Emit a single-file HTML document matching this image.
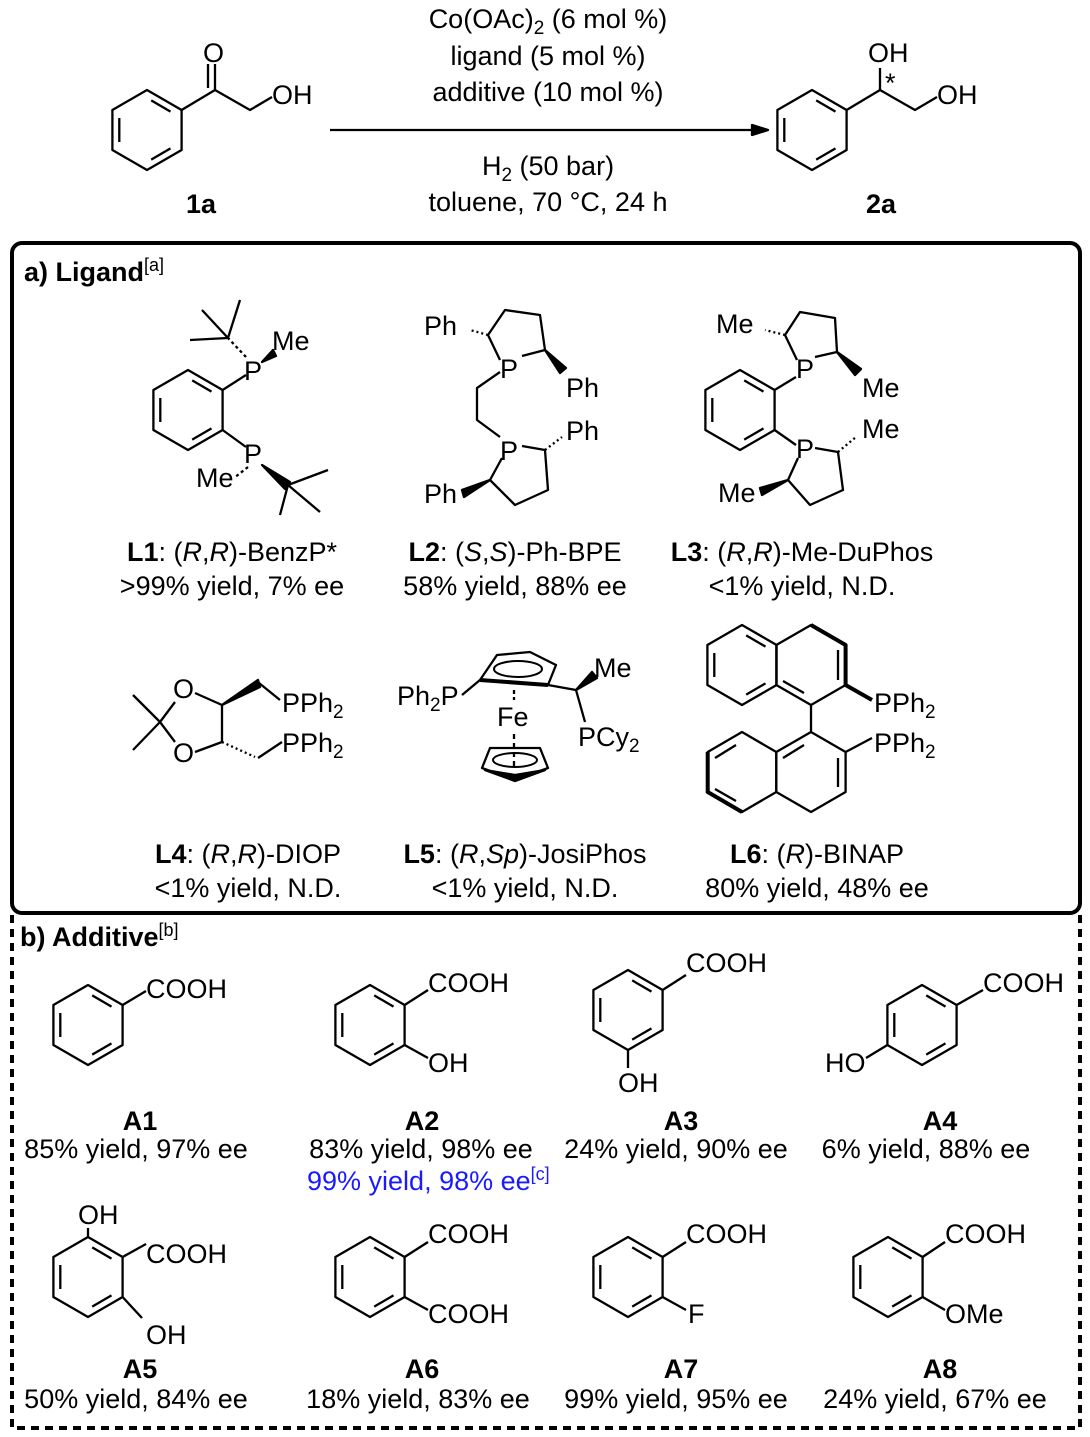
<!DOCTYPE html>
<html><head><meta charset="utf-8"><style>
body{margin:0;background:#fff;}
svg{display:block;font-family:"Liberation Sans",Arial,sans-serif;}
text{font-size:27px;fill:#000;}
.b{font-weight:bold;}
line,polyline,polygon,path{stroke:#000;stroke-width:2.3;fill:none;stroke-linejoin:round;}
</style></head><body>
<svg width="1090" height="1437" viewBox="0 0 1090 1437" xmlns="http://www.w3.org/2000/svg">
<defs>
<g id="bz">
<polygon points="0,-40 34.6,-20 34.6,20 0,40 -34.6,20 -34.6,-20"/>
<line x1="4.2" y1="-29.6" x2="23.5" y2="-18.4"/>
<line x1="23.5" y1="18.4" x2="4.2" y2="29.6"/>
<line x1="-27.7" y1="-12" x2="-27.7" y2="12"/>
</g>
</defs>

<!-- Top scheme -->
<use href="#bz" transform="translate(147,130)"/>
<polyline points="181.6,110 215,90 250,110 272,97"/>
<line x1="215" y1="90" x2="215" y2="64"/>
<line x1="208" y1="88" x2="208" y2="64"/>
<text x="203" y="62">O</text>
<text x="272" y="104">OH</text>
<text x="186" y="213" class="b">1a</text>

<line x1="330" y1="130" x2="758" y2="130"/>
<polygon points="768,130 752,125 752,135" style="fill:#000"/>
<text x="548" y="28" text-anchor="middle">Co(OAc)<tspan font-size="19" dy="6">2</tspan><tspan dy="-6"> (6 mol %)</tspan></text>
<text x="548" y="65" text-anchor="middle">ligand (5 mol %)</text>
<text x="548" y="101" text-anchor="middle">additive (10 mol %)</text>
<text x="548" y="175" text-anchor="middle">H<tspan font-size="19" dy="6">2</tspan><tspan dy="-6"> (50 bar)</tspan></text>
<text x="548" y="211" text-anchor="middle">toluene, 70 °C, 24 h</text>

<use href="#bz" transform="translate(812,130)"/>
<polyline points="846.6,110 880,90 915,110 937,97"/>
<line x1="880" y1="90" x2="880" y2="68"/>
<text x="868" y="62">OH</text>
<text x="885" y="92" font-size="16">*</text>
<text x="937" y="104">OH</text>
<text x="866" y="213" class="b">2a</text>

<!-- Box a -->
<rect x="12" y="243" width="1068" height="670" rx="10" style="fill:none;stroke:#000;stroke-width:4"/>
<text x="24" y="281" class="b">a) Ligand<tspan font-size="18" dy="-10" font-weight="normal">[a]</tspan></text>

<!-- L1 -->
<use href="#bz" transform="translate(188,410)"/>
<line x1="222.6" y1="390" x2="246" y2="375"/>
<line x1="222.6" y1="430" x2="246" y2="447"/>
<text x="244" y="380">P</text>
<text x="244" y="463">P</text>
<line x1="246" y1="357" x2="228" y2="338" style="stroke-dasharray:3 3"/>
<line x1="228" y1="338" x2="190" y2="340"/><line x1="228" y1="338" x2="202" y2="310"/><line x1="228" y1="338" x2="240" y2="300"/>
<polygon points="262,362 273,350 276,356" style="fill:#000"/>
<text x="272" y="350">Me</text>
<polygon points="262,465 290,482 285,489" style="fill:#000"/>
<line x1="288" y1="485" x2="328" y2="470"/><line x1="288" y1="485" x2="320" y2="512"/><line x1="288" y1="485" x2="280" y2="515"/>
<line x1="248" y1="467" x2="234" y2="478" style="stroke-dasharray:3 3"/>
<text x="196" y="487">Me</text>
<text x="232" y="561" text-anchor="middle"><tspan class="b">L1</tspan>: (<tspan font-style="italic">R</tspan>,<tspan font-style="italic">R</tspan>)-BenzP*</text>
<text x="232" y="595" text-anchor="middle">&gt;99% yield, 7% ee</text>

<!-- L2 -->
<polyline points="500,360 488,335 505,310 540,315 545,350 522,356"/>
<text x="500" y="378">P</text>
<line x1="488" y1="335" x2="470" y2="330" style="stroke-dasharray:2 3"/>
<text x="424" y="335">Ph</text>
<polygon points="545,350 560,373 566,368" style="fill:#000"/>
<text x="566" y="397">Ph</text>
<polyline points="500,372 477,388 477,420 500,437"/>
<polyline points="522,446 545,450 548,490 515,505 490,480 502,458"/>
<text x="500" y="460">P</text>
<line x1="545" y1="450" x2="562" y2="437" style="stroke-dasharray:2 3"/>
<text x="566" y="440">Ph</text>
<polygon points="490,480 462,490 464,497" style="fill:#000"/>
<text x="424" y="503">Ph</text>
<text x="515" y="561" text-anchor="middle"><tspan class="b">L2</tspan>: (<tspan font-style="italic">S</tspan>,<tspan font-style="italic">S</tspan>)-Ph-BPE</text>
<text x="515" y="595" text-anchor="middle">58% yield, 88% ee</text>

<!-- L3 -->
<use href="#bz" transform="translate(740,410)"/>
<line x1="774.6" y1="390" x2="796" y2="377"/>
<line x1="774.6" y1="430" x2="796" y2="445"/>
<polyline points="797,360 785,335 800,312 835,318 837,352 815,357"/>
<text x="796" y="378">P</text>
<line x1="785" y1="335" x2="765" y2="330" style="stroke-dasharray:2 3"/>
<text x="716" y="333">Me</text>
<polygon points="837,352 855,375 861,369" style="fill:#000"/>
<text x="862" y="397">Me</text>
<polyline points="815,448 838,452 843,490 810,505 788,480 798,458"/>
<text x="796" y="458">P</text>
<line x1="838" y1="452" x2="856" y2="437" style="stroke-dasharray:2 3"/>
<text x="862" y="438">Me</text>
<polygon points="788,480 760,488 762,495" style="fill:#000"/>
<text x="718" y="502">Me</text>
<text x="802" y="561" text-anchor="middle"><tspan class="b">L3</tspan>: (<tspan font-style="italic">R</tspan>,<tspan font-style="italic">R</tspan>)-Me-DuPhos</text>
<text x="802" y="595" text-anchor="middle">&lt;1% yield, N.D.</text>

<!-- L4 -->
<line x1="160" y1="722" x2="133" y2="695"/><line x1="160" y1="722" x2="133" y2="750"/>
<polyline points="175,702 160,722 175,742"/>
<text x="173" y="698">O</text><text x="173" y="762">O</text>
<line x1="195" y1="693" x2="222" y2="705"/>
<line x1="195" y1="752" x2="222" y2="742"/>
<line x1="222" y1="705" x2="222" y2="742"/>
<polygon points="222,705 258,680 260,687" style="fill:#000"/>
<line x1="259" y1="683" x2="280" y2="700"/>
<line x1="222" y1="742" x2="255" y2="757" style="stroke-dasharray:2 3"/>
<line x1="258" y1="758" x2="282" y2="742"/>
<text x="282" y="712">PPh<tspan font-size="19" dy="6">2</tspan></text>
<text x="282" y="752">PPh<tspan font-size="19" dy="6">2</tspan></text>
<text x="248" y="863" text-anchor="middle"><tspan class="b">L4</tspan>: (<tspan font-style="italic">R</tspan>,<tspan font-style="italic">R</tspan>)-DIOP</text>
<text x="248" y="897" text-anchor="middle">&lt;1% yield, N.D.</text>

<!-- L5 -->
<polygon points="480,680 497,655 530,652 556,665 548,685"/>
<line x1="480" y1="680" x2="548" y2="685" style="stroke-width:4"/>
<ellipse cx="518" cy="669" rx="24" ry="8" style="fill:none;stroke:#000;stroke-width:2"/>
<line x1="462" y1="695" x2="480" y2="680"/>
<text x="397" y="705">Ph<tspan font-size="19" dy="6">2</tspan><tspan dy="-6">P</tspan></text>
<line x1="548" y1="685" x2="576" y2="690"/>
<polygon points="576,690 592,672 597,678" style="fill:#000"/>
<text x="594" y="677">Me</text>
<line x1="576" y1="690" x2="585" y2="722"/>
<text x="578" y="746">PCy<tspan font-size="19" dy="6">2</tspan></text>
<line x1="514" y1="690" x2="514" y2="700" style="stroke-dasharray:4 3"/>
<text x="497" y="726">Fe</text>
<line x1="514" y1="734" x2="514" y2="770" style="stroke-dasharray:5 4"/>
<polygon points="482,768 490,748 540,748 548,768 515,780"/>
<polygon points="485,770 515,781 545,770 515,775" style="fill:#000"/>
<ellipse cx="515" cy="760" rx="22" ry="7" style="fill:none;stroke:#000;stroke-width:2"/>
<text x="525" y="863" text-anchor="middle"><tspan class="b">L5</tspan>: (<tspan font-style="italic">R</tspan>,<tspan font-style="italic">Sp</tspan>)-JosiPhos</text>
<text x="525" y="897" text-anchor="middle">&lt;1% yield, N.D.</text>

<!-- L6 -->
<use href="#bz" transform="translate(742,665)"/>
<polygon points="811,625 845.6,645 845.6,685 811,705 776.3,685 776.3,645"/>
<polyline points="811,625 845.6,645 845.6,685" style="stroke-width:4"/>
<line x1="804" y1="693" x2="783" y2="681"/>
<line x1="838" y1="650" x2="838" y2="680"/>
<line x1="845.6" y1="685" x2="872" y2="700" style="stroke-width:4"/>
<text x="874" y="712">PPh<tspan font-size="19" dy="6">2</tspan></text>
<line x1="811" y1="705" x2="811" y2="732"/>
<polygon points="742,732 776.3,752 776.3,792 742,812 707.7,792 707.7,752"/>
<polyline points="707.7,752 707.7,792 742,812" style="stroke-width:4"/>
<line x1="715" y1="758" x2="736" y2="745"/>
<line x1="736" y1="801" x2="715" y2="789"/>
<polygon points="811,732 845.6,752 845.6,792 811,812 776.3,792 776.3,752"/>
<line x1="783" y1="758" x2="804" y2="745"/>
<line x1="838" y1="758" x2="838" y2="787"/>
<line x1="845.6" y1="752" x2="872" y2="738"/>
<text x="874" y="752">PPh<tspan font-size="19" dy="6">2</tspan></text>
<text x="817" y="863" text-anchor="middle"><tspan class="b">L6</tspan>: (<tspan font-style="italic">R</tspan>)-BINAP</text>
<text x="817" y="897" text-anchor="middle">80% yield, 48% ee</text>

<!-- Box b -->
<path d="M12,915 L12,1428 L1080,1428 L1080,915" style="stroke-width:4;stroke-dasharray:8 6"/>
<text x="20" y="946" class="b">b) Additive<tspan font-size="18" dy="-10" font-weight="normal">[b]</tspan></text>

<!-- A1 -->
<use href="#bz" transform="translate(88,1025)"/>
<line x1="122.6" y1="1005" x2="146" y2="991"/>
<text x="146" y="998">COOH</text>
<text x="140" y="1130" text-anchor="middle" class="b">A1</text>
<text x="136" y="1158" text-anchor="middle">85% yield, 97% ee</text>
<!-- A2 -->
<use href="#bz" transform="translate(370,1025)"/>
<line x1="404.6" y1="1005" x2="428" y2="990"/>
<text x="428" y="992">COOH</text>
<line x1="404.6" y1="1045" x2="428" y2="1058"/>
<text x="428" y="1072">OH</text>
<text x="422" y="1130" text-anchor="middle" class="b">A2</text>
<text x="421" y="1158" text-anchor="middle">83% yield, 98% ee</text>
<text x="307" y="1190" style="fill:#1a1aff">99% yield, 98% ee<tspan font-size="18" dy="-10">[c]</tspan></text>
<!-- A3 -->
<use href="#bz" transform="translate(628,1010)"/>
<line x1="662.6" y1="990" x2="686" y2="975"/>
<text x="686" y="972">COOH</text>
<line x1="628" y1="1050" x2="628" y2="1068"/>
<text x="618" y="1092">OH</text>
<text x="681" y="1130" text-anchor="middle" class="b">A3</text>
<text x="676" y="1158" text-anchor="middle">24% yield, 90% ee</text>
<!-- A4 -->
<use href="#bz" transform="translate(922,1025)"/>
<line x1="956.6" y1="1005" x2="983" y2="990"/>
<text x="983" y="992">COOH</text>
<line x1="887.4" y1="1045" x2="866" y2="1058"/>
<text x="825" y="1072">HO</text>
<text x="940" y="1130" text-anchor="middle" class="b">A4</text>
<text x="926" y="1158" text-anchor="middle">6% yield, 88% ee</text>

<!-- A5 -->
<use href="#bz" transform="translate(88,1277)"/>
<line x1="88" y1="1237" x2="88" y2="1228"/>
<text x="78" y="1224">OH</text>
<line x1="122.6" y1="1257" x2="146" y2="1244"/>
<text x="146" y="1263">COOH</text>
<line x1="122.6" y1="1297" x2="142" y2="1318"/>
<text x="146" y="1344">OH</text>
<text x="140" y="1378" text-anchor="middle" class="b">A5</text>
<text x="136" y="1408" text-anchor="middle">50% yield, 84% ee</text>
<!-- A6 -->
<use href="#bz" transform="translate(370,1277)"/>
<line x1="404.6" y1="1257" x2="428" y2="1242"/>
<text x="428" y="1243">COOH</text>
<line x1="404.6" y1="1297" x2="428" y2="1310"/>
<text x="428" y="1323">COOH</text>
<text x="422" y="1378" text-anchor="middle" class="b">A6</text>
<text x="418" y="1408" text-anchor="middle">18% yield, 83% ee</text>
<!-- A7 -->
<use href="#bz" transform="translate(628,1277)"/>
<line x1="662.6" y1="1257" x2="686" y2="1242"/>
<text x="686" y="1243">COOH</text>
<line x1="662.6" y1="1297" x2="686" y2="1310"/>
<text x="688" y="1323">F</text>
<text x="681" y="1378" text-anchor="middle" class="b">A7</text>
<text x="676" y="1408" text-anchor="middle">99% yield, 95% ee</text>
<!-- A8 -->
<use href="#bz" transform="translate(888,1277)"/>
<line x1="922.6" y1="1257" x2="945" y2="1242"/>
<text x="945" y="1243">COOH</text>
<line x1="922.6" y1="1297" x2="945" y2="1310"/>
<text x="945" y="1323">OMe</text>
<text x="940" y="1378" text-anchor="middle" class="b">A8</text>
<text x="935" y="1408" text-anchor="middle">24% yield, 67% ee</text>
</svg>
</body></html>
